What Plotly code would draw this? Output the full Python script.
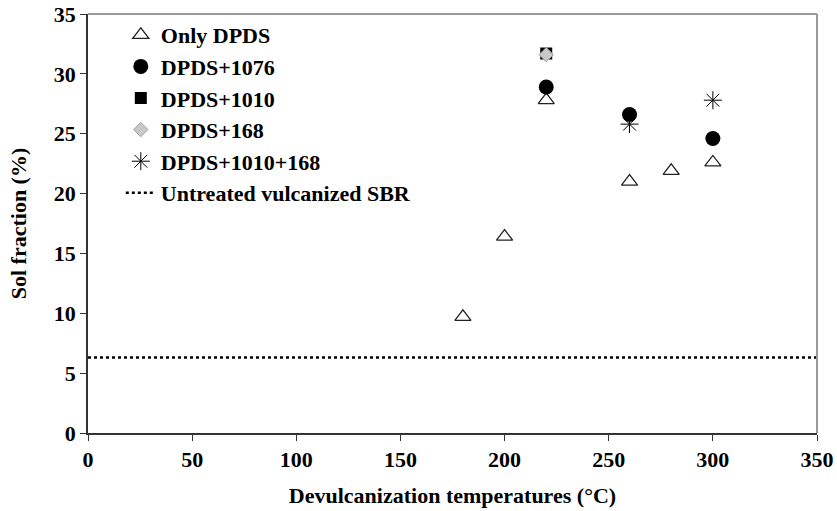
import plotly.graph_objects as go

# data
only_dpds_x = [180, 200, 220, 260, 280, 300]
only_dpds_y = [9.7, 16.4, 27.8, 21.0, 21.9, 22.6]

dpds_1076_x = [220, 260, 300]
dpds_1076_y = [28.9, 26.6, 24.6]

dpds_1010_x = [220]
dpds_1010_y = [31.7]

dpds_168_x = [220]
dpds_168_y = [31.6]

dpds_1010_168_x = [260, 300]
dpds_1010_168_y = [25.8, 27.8]

untreated_x = [0, 350]
untreated_y = [6.3, 6.3]

FONT = "Liberation Serif"

fig = go.Figure()

fig.add_trace(go.Scatter(
    x=only_dpds_x, y=only_dpds_y, mode="markers", name="Only DPDS",
    marker=dict(symbol="triangle-up-open", size=14, color="#222",
                line=dict(width=1.3, color="#222")),
))
fig.add_trace(go.Scatter(
    x=dpds_1076_x, y=dpds_1076_y, mode="markers", name="DPDS+1076",
    marker=dict(symbol="circle", size=15, color="black"),
))
fig.add_trace(go.Scatter(
    x=dpds_1010_x, y=dpds_1010_y, mode="markers", name="DPDS+1010",
    marker=dict(symbol="square", size=12, color="black"),
))
fig.add_trace(go.Scatter(
    x=dpds_168_x, y=dpds_168_y, mode="markers", name="DPDS+168",
    marker=dict(symbol="diamond", size=11, color="#c8c8c8",
                line=dict(width=1, color="#a0a0a0")),
))
fig.add_trace(go.Scatter(
    x=dpds_1010_168_x, y=dpds_1010_168_y, mode="markers", name="DPDS+1010+168",
    marker=dict(symbol="asterisk-open", size=15, color="black",
                line=dict(width=1, color="black")),
))
fig.add_trace(go.Scatter(
    x=untreated_x, y=untreated_y, mode="lines", name="Untreated vulcanized SBR",
    line=dict(color="black", width=2.5, dash="dot"),
))

# gray top and right frame lines
fig.add_shape(type="line", xref="paper", yref="paper", x0=0, x1=1, y0=1, y1=1,
              line=dict(color="#999", width=2))
fig.add_shape(type="line", xref="paper", yref="paper", x0=1, x1=1, y0=0, y1=1,
              line=dict(color="#999", width=2))

bold = dict(family=FONT, size=22, color="black", weight="bold")

fig.update_layout(
    width=837, height=511,
    margin=dict(l=88, r=20, t=14, b=78),
    paper_bgcolor="white", plot_bgcolor="white",
    font=bold,
    showlegend=True,
    legend=dict(x=0.045, y=1.0, xanchor="left", yanchor="top",
                bgcolor="rgba(0,0,0,0)", font=bold,
                tracegroupgap=0, itemwidth=30),
    xaxis=dict(
        range=[0, 350], tickmode="linear", dtick=50,
        showgrid=False, zeroline=False, automargin=False,
        showline=True, linecolor="#333", linewidth=1.5,
        ticks="outside", ticklen=6, tickcolor="#333",
        tickfont=bold,
        title=dict(text="Devulcanization temperatures (°C)",
                   font=bold, standoff=16),
    ),
    yaxis=dict(
        range=[0, 35], tickmode="linear", dtick=5,
        showgrid=False, zeroline=False, automargin=False,
        showline=True, linecolor="#333", linewidth=1.5,
        ticks="outside", ticklen=6, tickcolor="#333",
        tickfont=bold,
        title=dict(text="Sol fraction (%)", font=bold, standoff=21),
    ),
)

# drop the default body margin so the figure fills the window
fig.write_html("out.html", config={"displayModeBar": False},
               post_script="document.body.style.margin='0';")
